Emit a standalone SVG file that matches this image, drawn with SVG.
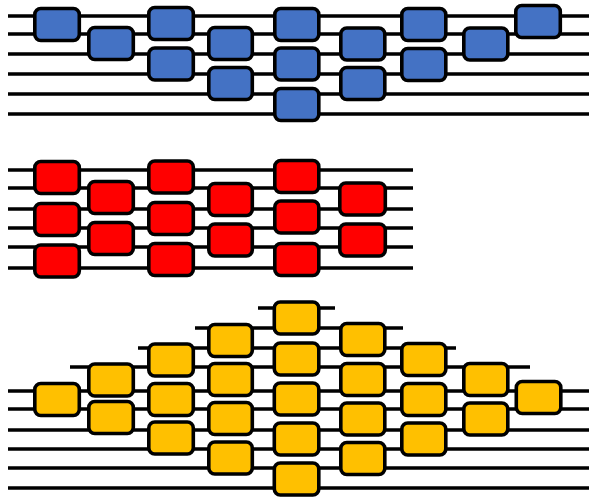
<svg xmlns="http://www.w3.org/2000/svg" width="589" height="498" viewBox="0 0 589 498">
  <style>
    .wire { stroke: #000; stroke-width: 3.6; fill: none; }
    .gate { stroke: #000; stroke-width: 3.6; }
    .blue { fill: #4472C4; }
    .red { fill: #FF0000; }
    .gold { fill: #FFC000; }
  </style>
  <rect width="589" height="498" fill="#fff"/>

  <!-- wires -->
  <g id="connectors" class="wire">
    <!-- blue circuit: six wires -->
    <path d="M8 16H589M8 34H589M8 54H589M8 74H589M8 94H589M8 114H589"/>
    <!-- red circuit: six wires -->
    <path d="M8 170H413M8 188H413M8 209H413M8 228H413M8 247H413M8 268H413"/>
    <!-- gold circuit: stub wires on top, full wires below -->
    <path d="M258 308H335M195 328H403M138 348H456M70 367H530"/>
    <path d="M8 391H589M8 409H589M8 430H589M8 449H589M8 468H589M8 488H589"/>
  </g>

  <!-- blue staircase gates -->
  <g id="b1"><rect class="gate blue" x="34.8" y="8.5" width="44.5" height="32" rx="6"/></g>
  <g id="b2"><rect class="gate blue" x="88.8" y="27.5" width="44.5" height="32" rx="6"/></g>
  <g id="b3"><rect class="gate blue" x="148.8" y="7.5" width="44.5" height="32" rx="6"/></g>
  <g id="b4"><rect class="gate blue" x="148.8" y="48" width="44.5" height="32" rx="6"/></g>
  <g id="b5"><rect class="gate blue" x="208.8" y="27.5" width="43.5" height="32" rx="6"/></g>
  <g id="b6"><rect class="gate blue" x="208.8" y="67.5" width="43.5" height="32" rx="6"/></g>
  <g id="b7"><rect class="gate blue" x="274.8" y="8.5" width="44" height="32" rx="6"/></g>
  <g id="b8"><rect class="gate blue" x="274.8" y="48" width="44" height="32" rx="6"/></g>
  <g id="b9"><rect class="gate blue" x="274.8" y="88.5" width="44" height="32" rx="6"/></g>
  <g id="b10"><rect class="gate blue" x="340.8" y="28" width="44" height="32" rx="6"/></g>
  <g id="b11"><rect class="gate blue" x="340.8" y="67.5" width="44" height="32" rx="6"/></g>
  <g id="b12"><rect class="gate blue" x="401.8" y="8.5" width="44" height="32" rx="6"/></g>
  <g id="b13"><rect class="gate blue" x="401.8" y="48.5" width="44" height="32" rx="6"/></g>
  <g id="b14"><rect class="gate blue" x="463.8" y="28" width="44" height="32" rx="6"/></g>
  <g id="b15"><rect class="gate blue" x="515.8" y="5.5" width="44.5" height="32" rx="6"/></g>

  <!-- red brickwork gates -->
  <g id="r1"><rect class="gate red" x="34.8" y="161.5" width="44.5" height="32" rx="6"/></g>
  <g id="r2"><rect class="gate red" x="34.8" y="203.5" width="44.5" height="32" rx="6"/></g>
  <g id="r3"><rect class="gate red" x="34.8" y="245" width="44.5" height="32" rx="6"/></g>
  <g id="r4"><rect class="gate red" x="88.8" y="181.5" width="44.5" height="32" rx="6"/></g>
  <g id="r5"><rect class="gate red" x="88.8" y="222.5" width="44.5" height="32" rx="6"/></g>
  <g id="r6"><rect class="gate red" x="148.8" y="161" width="44.5" height="32" rx="6"/></g>
  <g id="r7"><rect class="gate red" x="148.8" y="202.5" width="44.5" height="32" rx="6"/></g>
  <g id="r8"><rect class="gate red" x="148.8" y="243.5" width="44.5" height="32" rx="6"/></g>
  <g id="r9"><rect class="gate red" x="208.8" y="183.5" width="43.5" height="32" rx="6"/></g>
  <g id="r10"><rect class="gate red" x="208.8" y="224" width="43.5" height="32" rx="6"/></g>
  <g id="r11"><rect class="gate red" x="274.8" y="160.5" width="44" height="32" rx="6"/></g>
  <g id="r12"><rect class="gate red" x="274.8" y="201" width="44" height="32" rx="6"/></g>
  <g id="r13"><rect class="gate red" x="274.8" y="243.5" width="44" height="32" rx="6"/></g>
  <g id="r14"><rect class="gate red" x="339.8" y="183" width="45.5" height="32" rx="6"/></g>
  <g id="r15"><rect class="gate red" x="339.8" y="224" width="45.5" height="32" rx="6"/></g>

  <!-- gold pyramid gates -->
  <g id="y1"><rect class="gate gold" x="34.8" y="383.5" width="44.5" height="32" rx="6"/></g>
  <g id="y2"><rect class="gate gold" x="88.8" y="364" width="44.5" height="32" rx="6"/></g>
  <g id="y3"><rect class="gate gold" x="88.8" y="401.5" width="44.5" height="32" rx="6"/></g>
  <g id="y4"><rect class="gate gold" x="148.8" y="344" width="44.5" height="32" rx="6"/></g>
  <g id="y5"><rect class="gate gold" x="148.8" y="383.5" width="44.5" height="32" rx="6"/></g>
  <g id="y6"><rect class="gate gold" x="148.8" y="422" width="44.5" height="32" rx="6"/></g>
  <g id="y7"><rect class="gate gold" x="208.8" y="324.5" width="43.5" height="32" rx="6"/></g>
  <g id="y8"><rect class="gate gold" x="208.8" y="363.5" width="43.5" height="32" rx="6"/></g>
  <g id="y9"><rect class="gate gold" x="208.8" y="402.5" width="43.5" height="32" rx="6"/></g>
  <g id="y10"><rect class="gate gold" x="208.8" y="442" width="43.5" height="32" rx="6"/></g>
  <g id="y11"><rect class="gate gold" x="274.3" y="302" width="44.5" height="32" rx="6"/></g>
  <g id="y12"><rect class="gate gold" x="274.3" y="343" width="44.5" height="32" rx="6"/></g>
  <g id="y13"><rect class="gate gold" x="274.3" y="383" width="44.5" height="32" rx="6"/></g>
  <g id="y14"><rect class="gate gold" x="274.3" y="423" width="44.5" height="32" rx="6"/></g>
  <g id="y15"><rect class="gate gold" x="274.3" y="463" width="44.5" height="32" rx="6"/></g>
  <g id="y16"><rect class="gate gold" x="340.8" y="323.5" width="44" height="32" rx="6"/></g>
  <g id="y17"><rect class="gate gold" x="340.8" y="363.5" width="44" height="32" rx="6"/></g>
  <g id="y18"><rect class="gate gold" x="340.8" y="403" width="44" height="32" rx="6"/></g>
  <g id="y19"><rect class="gate gold" x="340.8" y="442.5" width="44" height="32" rx="6"/></g>
  <g id="y20"><rect class="gate gold" x="401.8" y="343.5" width="44" height="32" rx="6"/></g>
  <g id="y21"><rect class="gate gold" x="401.8" y="383.5" width="44" height="32" rx="6"/></g>
  <g id="y22"><rect class="gate gold" x="401.8" y="423" width="44" height="32" rx="6"/></g>
  <g id="y23"><rect class="gate gold" x="463.8" y="363.5" width="44" height="32" rx="6"/></g>
  <g id="y24"><rect class="gate gold" x="463.8" y="403" width="44" height="32" rx="6"/></g>
  <g id="y25"><rect class="gate gold" x="516.3" y="381.5" width="44.5" height="32" rx="6"/></g>
</svg>
